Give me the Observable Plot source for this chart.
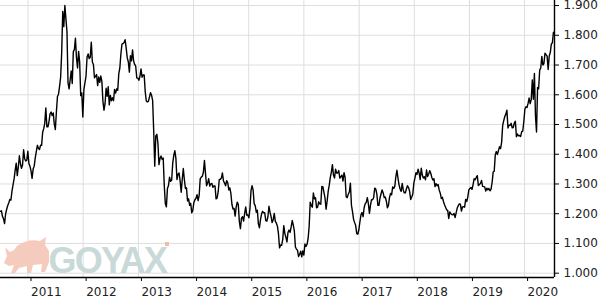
<!DOCTYPE html>
<html>
<head>
<meta charset="utf-8">
<script src="https://cdn.jsdelivr.net/npm/d3@7"></script>
<script src="https://cdn.jsdelivr.net/npm/@observablehq/plot@0.6"></script>
<style>
  html, body { margin: 0; padding: 0; background: #fff; }
</style>
</head>
<body>
<div id="chart"></div>
<script>
// Weekly gold price (USD per ounce), one array per year, first Friday of each array below
const firstFriday = ["2010-07-02","2011-01-07","2012-01-06","2013-01-04","2014-01-03",
                     "2015-01-02","2016-01-01","2017-01-06","2018-01-05","2019-01-04","2020-01-03"];
const price2010 = [1208,1210,1191,1183,1167, 1200,1215,1228,1237, 1248,1246,1276,1297,
  1317,1346,1370,1328,1357, 1395,1368,1353,1364, 1415,1385,1377,1380,1410];
const price2011 = [1369,1360,1344,1319, 1350,1360,1388,1409, 1430,1420,1416,1430,
  1430,1474,1486,1504,1556, 1492,1492,1510,1536, 1542,1530,1539,1502,
  1483,1542,1594,1602,1628, 1659,1742,1880,1829, 1900,1856,1812,1640,1620,
  1649,1680,1638,1745, 1752,1790,1724,1690, 1746,1710,1597,1606,1525];
const price2012 = [1617,1640,1663,1727, 1737,1722,1726,1777, 1710,1702,1657,1662,1668,
  1631,1660,1642,1663, 1645,1578,1548,1570, 1622,1595,1627,1566,1598,
  1580,1590,1580,1618, 1606,1620,1615,1671,1690, 1738,1770,1772,1776,
  1785,1757,1724,1711, 1676,1731,1714,1751,1714, 1702,1696,1657,1656];
const price2013 = [1649,1662,1687,1659, 1667,1667,1610,1579, 1576,1578,1592,1607,1598,
  1581,1480,1360,1462, 1467,1437,1365,1386,1394, 1383,1387,1296,1234,
  1223,1285,1295,1323, 1309,1313,1370,1396,1412, 1386,1315,1333,1337,
  1310,1272,1315,1352, 1315,1285,1287,1243,1250, 1228,1235,1203,1212];
const price2014 = [1238,1247,1252,1264,1244, 1262,1318,1323,1326, 1340,1379,1335,1294,
  1303,1318,1293,1300, 1302,1289,1293,1293,1250, 1253,1274,1315,1316,
  1320,1337,1310,1303, 1294,1311,1305,1280,1287, 1268,1231,1216,1218,
  1192,1222,1239,1231,1173, 1150,1185,1190,1175, 1200,1223,1195,1196];
const price2015 = [1186,1216,1277,1294,1280, 1234,1227,1205,1212, 1166,1153,1180,1199,
  1208,1203,1203,1177, 1175,1189,1225,1205,1190, 1170,1180,1201,1174,
  1168,1158,1132,1085,1095, 1094,1113,1160,1134, 1121,1105,1137,1145,
  1137,1156,1177,1162,1142, 1088,1081,1077,1056, 1063,1074,1055,1075];
const price2016 = [1061,1098,1090,1097,1116, 1157,1239,1228,1222, 1270,1250,1254,1220,
  1222,1240,1233,1232,1292, 1290,1272,1253,1215, 1242,1275,1296,1322,
  1340,1365,1330,1320,1350, 1337,1337,1345,1320, 1325,1330,1310,1338,1322,
  1257,1254,1266,1273, 1303,1228,1207,1181, 1170,1160,1133,1131,1146];
const price2017 = [1173,1196,1204,1190, 1220,1234,1238,1254, 1234,1201,1229,1247,1247,
  1254,1286,1283,1267, 1228,1228,1253,1267, 1280,1270,1254,1256,1242,
  1220,1228,1255,1268, 1264,1290,1285,1292, 1325,1346,1320,1297,1283,
  1275,1302,1280,1270, 1270,1284,1294,1288, 1275,1248,1256,1266,1303];
const price2018 = [1320,1338,1332,1350, 1337,1315,1353,1330, 1320,1324,1314,1347,1325,
  1333,1345,1336,1322, 1313,1318,1291,1301, 1294,1298,1279,1269,1251,
  1255,1241,1230,1222, 1213,1211,1184,1206,1200, 1197,1196,1201,1187,
  1203,1219,1227,1233, 1232,1209,1223,1224,1222, 1248,1241,1256,1280];
const price2019 = [1285,1288,1282,1298, 1318,1314,1322,1328, 1295,1298,1302,1312,1292,
  1291,1290,1276,1286, 1280,1285,1277,1283,1305, 1340,1343,1398,1409,
  1399,1412,1425,1419, 1440,1497,1513,1527,1535, 1548,1488,1498,1497,
  1504,1489,1490,1505, 1511,1459,1468,1462,1463, 1460,1476,1478,1510];
const price2020 = [1552,1560,1557,1571,1589, 1570,1584,1650,1585, 1672,1530,1475,1625,
  1620,1683,1690,1729, 1700,1705,1740,1735,1730, 1685,1730,1742,1770, 1775,1810];

const yearTicks = ["2011","2012","2013","2014","2015","2016","2017","2018","2019","2020"];
const priceTicks = [1000,1100,1200,1300,1400,1500,1600,1700,1800,1900];

const allYears = [price2010,price2011,price2012,price2013,price2014,price2015,
                  price2016,price2017,price2018,price2019,price2020];
const data = allYears.flatMap((vals, k) =>
  vals.map((p, i) => ({date: d3.utcDay.offset(new Date(firstFriday[k] + "T00:00Z"), 7 * i), price: p})));

const xTicks = yearTicks.map(y => new Date(y + "-01-01T00:00Z"));
const xDomain = [new Date("2010-07-03T00:00Z"), new Date("2020-07-17T00:00Z")];
const yDomain = [985.5, 1917];
const de = d3.formatLocale({decimal: ",", thousands: ".", grouping: [3], currency: ["", "€"]});
const fmt = de.format(",.0f");

const chart = Plot.plot({
  width: 600, height: 300,
  marginLeft: 0, marginRight: 46, marginTop: 0, marginBottom: 23,
  style: {fontFamily: "DejaVu Sans, Verdana, sans-serif", fontSize: "12px", background: "#fff", color: "#222"},
  x: {type: "utc", domain: xDomain, label: null},
  y: {domain: yDomain, label: null},
  marks: [
    Plot.gridX(xTicks, {stroke: "#dedede", strokeOpacity: 1}),
    Plot.gridY(priceTicks, {stroke: "#dedede", strokeOpacity: 1}),
    Plot.line(data, {x: "date", y: "price", stroke: "#000", strokeWidth: 1.4, clip: true}),
    Plot.axisX(xTicks, {tickFormat: d => d3.utcFormat("%Y")(d), textAnchor: "start", dx: 3,
      tickSize: 4, tickPadding: 6, fontSize: 12, fill: "#222", stroke: "#000", label: null}),
    Plot.axisY(priceTicks, {anchor: "right", tickSize: 4, tickPadding: 5, tickFormat: fmt,
      fontSize: 12, fill: "#222", stroke: "#000", label: null}),
    Plot.ruleX([xDomain[1]], {stroke: "#000", strokeWidth: 1.4}),
    Plot.ruleY([yDomain[0]], {stroke: "#000", strokeWidth: 1.4})
  ]
});

// GOYAX watermark (decoration, behind the line)
const svg = d3.select(chart);
const wm = svg.insert("g", "g[aria-label=line]").attr("aria-label", "watermark");
wm.append("path")
  .attr("d", "M4,263 L7,256 L5,247 L10,252 L14,250 L17,246 Q28,238 40,241 L46,237 L45,245 L49,251 L49,262 L45,272 L41,272 L42,264 L33,265 L31,273 L27,273 L27,266 L19,268 L15,273 L11,273 L14,265 L9,266 Z")
  .attr("fill", "#f5cbbd");
wm.append("text")
  .attr("x", 48.5).attr("y", 273)
  .attr("text-anchor", "start")
  .attr("font-family", "Liberation Sans, Arial, sans-serif")
  .attr("font-weight", "bold")
  .attr("font-size", 36)
  .attr("letter-spacing", "-1.8")
  .attr("fill", "#c9d9d7")
  .text("GOYAX");
wm.append("rect").attr("x", 165).attr("y", 242).attr("width", 4).attr("height", 4).attr("fill", "#f2bba8");

document.getElementById("chart").appendChild(chart);
</script>
</body>
</html>
